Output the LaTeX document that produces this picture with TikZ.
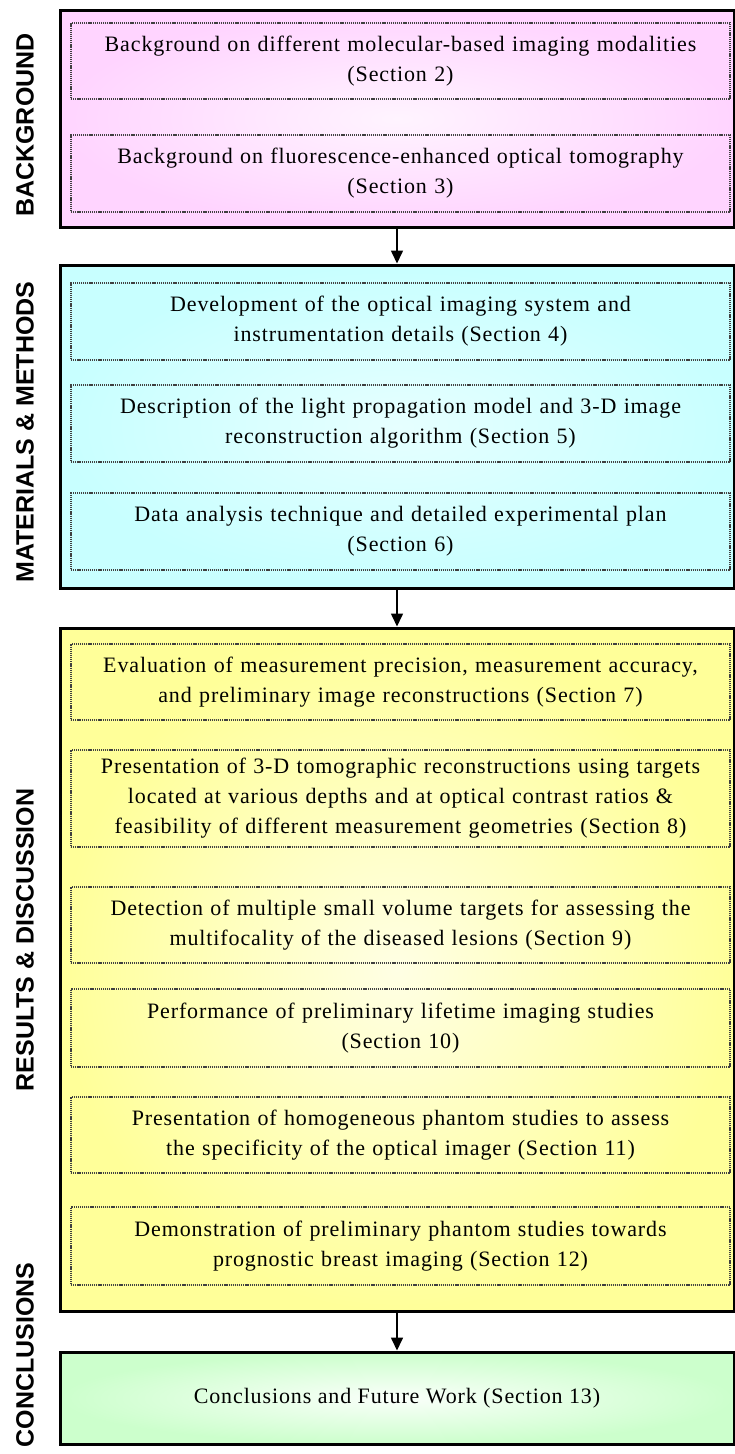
\documentclass[tikz,border=0pt]{standalone}
\usepackage{fontspec}
\setmainfont{Liberation Serif}[LetterSpace=4]
\newfontfamily\sidefont{Liberation Sans}
\usetikzlibrary{arrows.meta}

\definecolor{pinkout}{HTML}{FFD4FF}
\definecolor{pinkin}{HTML}{FFF4FF}
\definecolor{cyanout}{HTML}{C8FFFF}
\definecolor{cyanin}{HTML}{E6FFFF}
\definecolor{yelout}{HTML}{FFFF99}
\definecolor{yelin}{HTML}{FFFFE4}
\definecolor{grnout}{HTML}{CCFFCC}
\definecolor{grnin}{HTML}{FAFFFA}

\tikzset{
  part/.style={draw=black, line width=3pt, minimum width=674pt, inner sep=0pt,
    font=\fontsize{22}{30}\selectfont},
  item/.style={draw=black!75, dash pattern=on 1.2pt off 0.9pt, line width=1.3pt,
    minimum width=659pt, text width=655pt, align=center, inner sep=0pt,
    font=\fontsize{22}{30}\selectfont},
  side/.style={rotate=90, font=\sidefont\bfseries\fontsize{25}{25}\selectfont},
  flow/.style={line width=1.6pt, -{Triangle[width=12pt,length=13pt]}}
}

\begin{document}
\begin{tikzpicture}[x=1pt, y=-1pt]
\useasboundingbox (0,0) rectangle (735,1454);
\node [part, minimum height=217pt, shade, inner color=pinkin, outer color=pinkout] (bg) at (397,118.5) {};
\node [part, minimum height=323pt, shade, inner color=cyanin, outer color=cyanout] (mm) at (397,426.5) {};
\node [part, minimum height=683pt, shade, inner color=yelin, outer color=yelout] (rd) at (397,969.5) {};
\node [part, minimum height=92pt, shade, inner color=grnin, outer color=grnout] (cc) at (397,1398) {Conclusions and Future Work (Section 13)};
\node [side] (bgL) at (25,125) {BACKGROUND};
\node [side] (mmL) at (25,432) {MATERIALS \& METHODS};
\node [side] (rdL) at (25,940) {RESULTS \& DISCUSSION};
\node [side] (ccL) at (25,1355) {CONCLUSIONS};
\node [item, minimum height=76pt] (bg1) at (400.5,61) {Background on different molecular-based imaging modalities\\(Section 2)};
\node [item, minimum height=77pt] (bg2) at (400.5,173.5) {Background on fluorescence-enhanced optical tomography\\(Section 3)};
\node [item, minimum height=77pt] (mm1) at (400.5,321.5) {Development of the optical imaging system and\\instrumentation details (Section 4)};
\node [item, minimum height=77pt] (mm2) at (400.5,423.5) {Description of the light propagation model and 3-D image\\reconstruction algorithm (Section 5)};
\node [item, minimum height=77pt] (mm3) at (400.5,531.5) {Data analysis technique and detailed experimental plan\\(Section 6)};
\node [item, minimum height=76pt] (rd1) at (400.5,682) {Evaluation of measurement precision, measurement accuracy,\\and preliminary image reconstructions (Section 7)};
\node [item, minimum height=97pt] (rd2) at (400.5,798.5) {Presentation of 3-D tomographic reconstructions using targets\\located at various depths and at optical contrast ratios \&\\feasibility of different measurement geometries (Section 8)};
\node [item, minimum height=76pt] (rd3) at (400.5,925) {Detection of multiple small volume targets for assessing the\\multifocality of the diseased lesions (Section 9)};
\node [item, minimum height=78pt] (rd4) at (400.5,1028) {Performance of preliminary lifetime imaging studies\\(Section 10)};
\node [item, minimum height=76pt] (rd5) at (400.5,1135) {Presentation of homogeneous phantom studies to assess\\the specificity of the optical imager (Section 11)};
\node [item, minimum height=78pt] (rd6) at (400.5,1246) {Demonstration of preliminary phantom studies towards\\prognostic breast imaging (Section 12)};
\draw [flow] (bg) -- (mm);
\draw [flow] (mm) -- (rd);
\draw [flow] (rd) -- (cc);
\end{tikzpicture}
\end{document}
